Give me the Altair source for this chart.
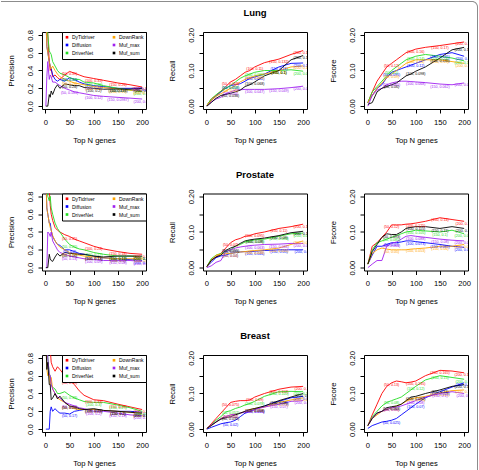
import altair as alt
import pandas as pd

# Methods, in the order they are plotted (and listed in the legend, column by column)
SERIES = ["DyTidriver", "Diffusion", "DriverNet", "DownRank", "Muf_max", "Muf_sum"]
COLORS = {
    "DyTidriver": "#FF0000",
    "Diffusion": "#0000FF",
    "DriverNet": "#22DD22",
    "DownRank": "#FFA500",
    "Muf_max": "#A020F0",
    "Muf_sum": "#000000",
}

CANCERS = ["Lung", "Prostate", "Breast"]
METRICS = ["Precision", "Recall", "Fscore"]
X_TICKS = [0, 50, 100, 150, 200]
LABEL_N = [50, 100, 150, 200]

# Top-N positions at which the curves are sampled
N_PREC = [1, 3, 5, 8, 10, 12, 15, 20, 25, 30, 40, 50, 60, 70, 80, 100, 120, 150, 175, 200]
N_CURVE = [1, 10, 20, 30, 40, 50, 60, 70, 80, 90, 100, 120, 150, 175, 200]

# ---------------- Lung ----------------
LUNG_PRECISION = {
    "DyTidriver": [1.0, 1.0, 0.8, 0.5, 0.4, 0.42, 0.33, 0.35, 0.32, 0.3, 0.35, 0.39, 0.37, 0.35, 0.33, 0.31, 0.29, 0.26, 0.24, 0.215],
    "Diffusion":  [1.0, 0.67, 0.6, 0.5, 0.45, 0.42, 0.35, 0.3, 0.28, 0.3, 0.28, 0.32, 0.3, 0.27, 0.25, 0.23, 0.22, 0.2, 0.2, 0.205],
    "DriverNet":  [1.0, 1.0, 0.8, 0.62, 0.6, 0.58, 0.5, 0.45, 0.4, 0.37, 0.35, 0.32, 0.3, 0.3, 0.27, 0.26, 0.23, 0.2, 0.18, 0.16],
    "DownRank":   [1.0, 0.67, 0.6, 0.5, 0.45, 0.42, 0.45, 0.4, 0.36, 0.33, 0.3, 0.28, 0.26, 0.25, 0.24, 0.22, 0.21, 0.19, 0.18, 0.17],
    "Muf_max":    [0.0, 0.33, 0.5, 0.3, 0.35, 0.33, 0.27, 0.27, 0.25, 0.23, 0.2, 0.181, 0.16, 0.15, 0.14, 0.12, 0.11, 0.0987, 0.09, 0.08],
    "Muf_sum":    [0.0, 0.0, 0.0, 0.13, 0.1, 0.17, 0.13, 0.2, 0.24, 0.2, 0.25, 0.24, 0.23, 0.23, 0.21, 0.2, 0.19, 0.193, 0.19, 0.2],
}
LUNG_RECALL = {
    "DyTidriver": [0.002, 0.02, 0.03, 0.042, 0.055, 0.068, 0.075, 0.085, 0.095, 0.1, 0.11, 0.122, 0.132, 0.145, 0.156],
    "Diffusion":  [0.002, 0.015, 0.028, 0.04, 0.05, 0.058, 0.06, 0.063, 0.07, 0.078, 0.082, 0.09, 0.11, 0.12, 0.121],
    "DriverNet":  [0.002, 0.02, 0.032, 0.042, 0.05, 0.058, 0.068, 0.078, 0.085, 0.09, 0.095, 0.1, 0.1, 0.102, 0.098],
    "DownRank":   [0.002, 0.015, 0.028, 0.035, 0.042, 0.05, 0.058, 0.068, 0.075, 0.08, 0.085, 0.09, 0.1, 0.11, 0.113],
    "Muf_max":    [0.0, 0.012, 0.02, 0.025, 0.035, 0.04, 0.045, 0.046, 0.047, 0.047, 0.047, 0.047, 0.049, 0.052, 0.056],
    "Muf_sum":    [0.0, 0.01, 0.022, 0.03, 0.033, 0.036, 0.04, 0.045, 0.055, 0.06, 0.068, 0.085, 0.1, 0.13, 0.142],
}
LUNG_FSCORE = {
    "DyTidriver": [0.01, 0.04, 0.07, 0.09, 0.11, 0.12, 0.13, 0.14, 0.15, 0.155, 0.16, 0.165, 0.17, 0.175, 0.18],
    "Diffusion":  [0.01, 0.03, 0.05, 0.06, 0.08, 0.095, 0.1, 0.105, 0.11, 0.115, 0.12, 0.13, 0.145, 0.15, 0.14],
    "DriverNet":  [0.01, 0.04, 0.055, 0.07, 0.085, 0.1, 0.11, 0.12, 0.13, 0.135, 0.14, 0.145, 0.14, 0.135, 0.127],
    "DownRank":   [0.01, 0.03, 0.05, 0.065, 0.08, 0.09, 0.1, 0.11, 0.12, 0.125, 0.13, 0.13, 0.13, 0.125, 0.12],
    "Muf_max":    [0.0, 0.03, 0.045, 0.05, 0.06, 0.065, 0.068, 0.07, 0.07, 0.069, 0.068, 0.066, 0.062, 0.06, 0.065],
    "Muf_sum":    [0.005, 0.01, 0.04, 0.05, 0.055, 0.06, 0.065, 0.075, 0.085, 0.09, 0.098, 0.11, 0.135, 0.158, 0.165],
}

# ---------------- Prostate ----------------
PROSTATE_PRECISION = {
    "DyTidriver": [1.0, 1.0, 1.0, 0.88, 0.7, 0.6, 0.53, 0.45, 0.42, 0.4, 0.37, 0.35, 0.32, 0.3, 0.28, 0.24, 0.21, 0.18, 0.16, 0.15],
    "Diffusion":  [1.0, 0.67, 0.6, 0.5, 0.5, 0.42, 0.35, 0.3, 0.26, 0.25, 0.2, 0.2, 0.18, 0.16, 0.15, 0.13, 0.11, 0.1, 0.09, 0.08],
    "DriverNet":  [1.0, 1.0, 0.8, 0.75, 0.8, 0.67, 0.6, 0.5, 0.44, 0.4, 0.32, 0.26, 0.23, 0.21, 0.2, 0.17, 0.15, 0.13, 0.13, 0.12],
    "DownRank":   [1.0, 0.67, 0.6, 0.5, 0.45, 0.42, 0.36, 0.3, 0.26, 0.23, 0.2, 0.17, 0.15, 0.14, 0.13, 0.12, 0.11, 0.1, 0.1, 0.1],
    "Muf_max":    [0.0, 0.0, 0.4, 0.38, 0.35, 0.4, 0.3, 0.25, 0.2, 0.17, 0.15, 0.13, 0.12, 0.11, 0.1, 0.09, 0.08, 0.08, 0.08, 0.07],
    "Muf_sum":    [0.0, 0.0, 0.0, 0.15, 0.1, 0.08, 0.07, 0.12, 0.16, 0.13, 0.17, 0.16, 0.16, 0.15, 0.15, 0.13, 0.12, 0.13, 0.13, 0.13],
}
PROSTATE_RECALL = {
    "DyTidriver": [0.003, 0.022, 0.03, 0.04, 0.055, 0.07, 0.078, 0.082, 0.088, 0.09, 0.095, 0.1, 0.11, 0.115, 0.122],
    "Diffusion":  [0.003, 0.015, 0.028, 0.033, 0.035, 0.04, 0.042, 0.044, 0.045, 0.045, 0.046, 0.048, 0.05, 0.05, 0.05],
    "DriverNet":  [0.003, 0.025, 0.035, 0.04, 0.045, 0.05, 0.06, 0.065, 0.072, 0.075, 0.078, 0.08, 0.088, 0.095, 0.097],
    "DownRank":   [0.003, 0.02, 0.035, 0.038, 0.04, 0.04, 0.042, 0.044, 0.045, 0.047, 0.048, 0.05, 0.055, 0.065, 0.075],
    "Muf_max":    [0.0, 0.005, 0.015, 0.02, 0.045, 0.05, 0.055, 0.058, 0.06, 0.062, 0.063, 0.065, 0.066, 0.068, 0.068],
    "Muf_sum":    [0.003, 0.02, 0.03, 0.035, 0.048, 0.055, 0.06, 0.068, 0.075, 0.078, 0.08, 0.083, 0.09, 0.098, 0.102],
}
PROSTATE_FSCORE = {
    "DyTidriver": [0.01, 0.06, 0.07, 0.085, 0.1, 0.12, 0.12, 0.12, 0.122, 0.123, 0.125, 0.13, 0.14, 0.135, 0.13],
    "Diffusion":  [0.01, 0.035, 0.06, 0.06, 0.065, 0.07, 0.07, 0.072, 0.075, 0.075, 0.073, 0.07, 0.065, 0.06, 0.057],
    "DriverNet":  [0.01, 0.05, 0.07, 0.075, 0.08, 0.085, 0.09, 0.095, 0.1, 0.102, 0.105, 0.103, 0.1, 0.105, 0.095],
    "DownRank":   [0.01, 0.04, 0.05, 0.055, 0.052, 0.05, 0.05, 0.05, 0.05, 0.052, 0.053, 0.055, 0.06, 0.06, 0.065],
    "Muf_max":    [0.0, 0.01, 0.02, 0.02, 0.06, 0.068, 0.072, 0.08, 0.088, 0.09, 0.088, 0.085, 0.08, 0.077, 0.075],
    "Muf_sum":    [0.01, 0.045, 0.065, 0.085, 0.095, 0.093, 0.093, 0.1, 0.11, 0.113, 0.115, 0.115, 0.11, 0.115, 0.11],
}

# ---------------- Breast ----------------
BREAST_PRECISION = {
    "DyTidriver": [1.0, 1.0, 1.0, 1.0, 0.9, 0.75, 0.7, 0.65, 0.7, 0.67, 0.6, 0.55, 0.5, 0.43, 0.38, 0.33, 0.32, 0.28, 0.25, 0.22],
    "Diffusion":  [0.0, 0.0, 0.0, 0.0, 0.2, 0.25, 0.2, 0.23, 0.2, 0.18, 0.18, 0.17, 0.2, 0.21, 0.22, 0.22, 0.21, 0.2, 0.2, 0.19],
    "DriverNet":  [1.0, 1.0, 0.8, 0.62, 0.6, 0.5, 0.47, 0.45, 0.4, 0.4, 0.42, 0.38, 0.35, 0.33, 0.31, 0.3, 0.3, 0.27, 0.24, 0.2],
    "DownRank":   [1.0, 0.67, 0.6, 0.62, 0.5, 0.58, 0.45, 0.4, 0.35, 0.33, 0.3, 0.26, 0.23, 0.22, 0.22, 0.22, 0.21, 0.2, 0.19, 0.17],
    "Muf_max":    [1.0, 1.0, 0.8, 0.62, 0.6, 0.5, 0.45, 0.4, 0.36, 0.35, 0.3, 0.28, 0.26, 0.24, 0.23, 0.2, 0.2, 0.18, 0.16, 0.15],
    "Muf_sum":    [1.0, 0.67, 0.75, 0.5, 0.5, 0.33, 0.35, 0.4, 0.34, 0.37, 0.3, 0.26, 0.25, 0.23, 0.22, 0.23, 0.21, 0.2, 0.19, 0.18],
}
BREAST_RECALL = {
    "DyTidriver": [0.002, 0.015, 0.03, 0.045, 0.06, 0.075, 0.078, 0.08, 0.08, 0.082, 0.09, 0.1, 0.112, 0.118, 0.12],
    "Diffusion":  [0.0, 0.005, 0.01, 0.015, 0.018, 0.02, 0.025, 0.035, 0.045, 0.05, 0.055, 0.065, 0.078, 0.088, 0.092],
    "DriverNet":  [0.002, 0.012, 0.025, 0.035, 0.048, 0.052, 0.058, 0.062, 0.068, 0.072, 0.078, 0.092, 0.105, 0.106, 0.105],
    "DownRank":   [0.002, 0.01, 0.02, 0.03, 0.035, 0.04, 0.042, 0.045, 0.05, 0.055, 0.058, 0.062, 0.075, 0.082, 0.088],
    "Muf_max":    [0.002, 0.012, 0.02, 0.03, 0.035, 0.04, 0.042, 0.045, 0.048, 0.05, 0.055, 0.062, 0.07, 0.078, 0.08],
    "Muf_sum":    [0.002, 0.01, 0.02, 0.028, 0.032, 0.035, 0.04, 0.045, 0.05, 0.055, 0.058, 0.065, 0.08, 0.09, 0.1],
}
BREAST_FSCORE = {
    "DyTidriver": [0.01, 0.04, 0.07, 0.1, 0.12, 0.13, 0.135, 0.133, 0.13, 0.132, 0.135, 0.15, 0.165, 0.163, 0.158],
    "Diffusion":  [0.002, 0.01, 0.015, 0.02, 0.022, 0.025, 0.03, 0.04, 0.05, 0.06, 0.07, 0.088, 0.105, 0.118, 0.13],
    "DriverNet":  [0.01, 0.035, 0.05, 0.065, 0.075, 0.08, 0.085, 0.09, 0.1, 0.11, 0.12, 0.138, 0.15, 0.145, 0.14],
    "DownRank":   [0.01, 0.03, 0.04, 0.05, 0.055, 0.06, 0.065, 0.07, 0.078, 0.085, 0.088, 0.092, 0.102, 0.108, 0.11],
    "Muf_max":    [0.01, 0.03, 0.045, 0.05, 0.055, 0.06, 0.062, 0.065, 0.07, 0.075, 0.08, 0.09, 0.1, 0.105, 0.1],
    "Muf_sum":    [0.01, 0.03, 0.045, 0.05, 0.06, 0.063, 0.065, 0.07, 0.08, 0.09, 0.092, 0.1, 0.11, 0.12, 0.125],
}

TABLES = {
    ("Lung", "Precision"): LUNG_PRECISION,
    ("Lung", "Recall"): LUNG_RECALL,
    ("Lung", "Fscore"): LUNG_FSCORE,
    ("Prostate", "Precision"): PROSTATE_PRECISION,
    ("Prostate", "Recall"): PROSTATE_RECALL,
    ("Prostate", "Fscore"): PROSTATE_FSCORE,
    ("Breast", "Precision"): BREAST_PRECISION,
    ("Breast", "Recall"): BREAST_RECALL,
    ("Breast", "Fscore"): BREAST_FSCORE,
}

FONT = "Liberation Sans"
W, H = 104, 77                 # plot area of one panel
COL_GAP, ROW_GAP = 57, 84.5    # gaps between neighbouring plot areas
LEFT, TOP = 41, 31             # page position of the first plot area
PAGE_W, PAGE_H = 477, 470      # extent of the drawing, border included
FRAME = "#8c8c8c"

color_scale = alt.Scale(domain=SERIES, range=[COLORS[m] for m in SERIES])
ONE = pd.DataFrame({"k": [0]})


def long_table(values, grid):
    rows = []
    for m in SERIES:
        assert len(values[m]) == len(grid), m
        for n, v in zip(grid, values[m]):
            rows.append({"N": n, "value": v, "method": m})
    return pd.DataFrame(rows)


def y_axis(metric):
    # labels run along the axis, as in base R graphics
    common = dict(
        title=metric, labelAngle=270, labelAlign="center", labelBaseline="middle",
        labelPadding=8, labelFlush=False, labelOverlap=False,
        titleAngle=270, titleX=-31, titleY=H / 2, titleAlign="center", titleBaseline="middle",
    )
    if metric == "Precision":
        return alt.Axis(values=[0, 0.2, 0.4, 0.6, 0.8], format=".1f", **common)
    # ticks every 0.05, labels every 0.10
    return alt.Axis(
        values=[0, 0.05, 0.1, 0.15, 0.2],
        labelExpr="abs(datum.value * 100 % 10) < 0.5 ? format(datum.value, '.2f') : ''",
        **common,
    )


def page_rect(x0, x1, y0, y1, **mark):
    """A rectangle given in page pixels, drawn from the first panel."""
    return alt.Chart(ONE).mark_rect(**mark).encode(
        x=alt.value(x0 - LEFT), x2=alt.value(x1 - LEFT),
        y=alt.value(y0 - TOP), y2=alt.value(y1 - TOP),
    )


def border_layers():
    r = 6
    return [
        # invisible box fixing the extent of the drawing
        page_rect(0, PAGE_W, 0, PAGE_H, opacity=0),
        # top edge, rounded top-right corner, right edge
        page_rect(0, PAGE_W - 3 * r, 0, 1, color=FRAME),
        page_rect(PAGE_W - 3 * r, PAGE_W, 0, 3 * r, color=FRAME, cornerRadiusTopRight=r),
        page_rect(PAGE_W - 3 * r, PAGE_W - 1, 1, 3 * r, color="white", cornerRadiusTopRight=r - 1),
        page_rect(PAGE_W - 1, PAGE_W, 3 * r, PAGE_H, color=FRAME),
    ]


def panel(cancer, metric, with_title, with_border):
    grid = N_PREC if metric == "Precision" else N_CURVE
    df = long_table(TABLES[(cancer, metric)], grid)
    lab = df[df["N"].isin(LABEL_N)].copy()
    lab["label"] = [f"({n}, {v:.3g})" for n, v in zip(lab["N"], lab["value"])]

    ydom = [-0.032, 0.832] if metric == "Precision" else [-0.008, 0.208]
    xaxis = alt.Axis(
        values=X_TICKS, title="Top N genes", labelAngle=0, labelPadding=9,
        labelBaseline="middle", labelFlush=False, labelOverlap=False,
        titleX=W / 2, titleY=31, titleAlign="center", titleBaseline="middle",
    )
    x = alt.X("N:Q", scale=alt.Scale(domain=[-7, 208], nice=False, zero=False), axis=xaxis)
    y = alt.Y("value:Q", scale=alt.Scale(domain=ydom, nice=False, zero=False), axis=y_axis(metric))

    base = alt.Chart(df)
    layers = border_layers() if with_border else []
    if metric == "Precision":
        legend = alt.Legend(
            title=None, orient="top-right", offset=0, columns=2,
            symbolType="square", symbolSize=7, symbolStrokeWidth=0,
            labelFontSize=5, labelFont=FONT, labelColor="black", labelOffset=2.5,
            rowPadding=2, columnPadding=16, padding=2.5,
            strokeColor="black", fillColor="white",
        )
        # legend keys only; no rows are drawn
        layers.append(base.transform_filter("false").mark_square(size=7, opacity=1, filled=True).encode(
            x=x, y=y, color=alt.Color("method:N", scale=color_scale, legend=legend)
        ))
    layers.append(base.mark_line(strokeWidth=0.9, clip=True).encode(
        x=x, y=y,
        color=alt.Color("method:N", scale=color_scale, legend=None),
        detail="method:N",
    ))
    # "(N, value)" annotations at N = 50, 100, 150, 200
    layers.append(alt.Chart(lab).mark_text(fontSize=3.6, clip=True, dy=2.5, font=FONT).encode(
        x=x, y=y, text="label:N",
        color=alt.Color("method:N", scale=color_scale, legend=None),
    ))

    if with_title:
        layers.append(alt.Chart(ONE).mark_text(
            text=cancer, fontSize=9.5, fontWeight="bold", font=FONT, color="black",
            align="center", baseline="middle",
        ).encode(x=alt.value(W / 2), y=alt.value(-19)))

    return alt.layer(*layers).properties(width=W, height=H)


panels = []
for r, cancer in enumerate(CANCERS):
    for c, metric in enumerate(METRICS):
        panels.append(panel(cancer, metric, with_title=(c == 1), with_border=(r == 0 and c == 0)))

chart = alt.concat(
    *panels, columns=3, spacing={"row": ROW_GAP, "column": COL_GAP}, bounds="flush"
).resolve_scale(color="independent").resolve_legend(color="independent").properties(
    padding=0, background="white",
).configure(font=FONT).configure_view(
    stroke="black", strokeWidth=1, fill=None
).configure_axis(
    grid=False, domain=False, tickColor="black", tickSize=4, tickWidth=1,
    labelFont=FONT, labelFontSize=7.6, labelColor="black",
    titleFont=FONT, titleFontSize=7.6, titleFontWeight="normal", titleColor="black",
)

chart.save("out.html", embed_options={"renderer": "svg", "actions": False})
